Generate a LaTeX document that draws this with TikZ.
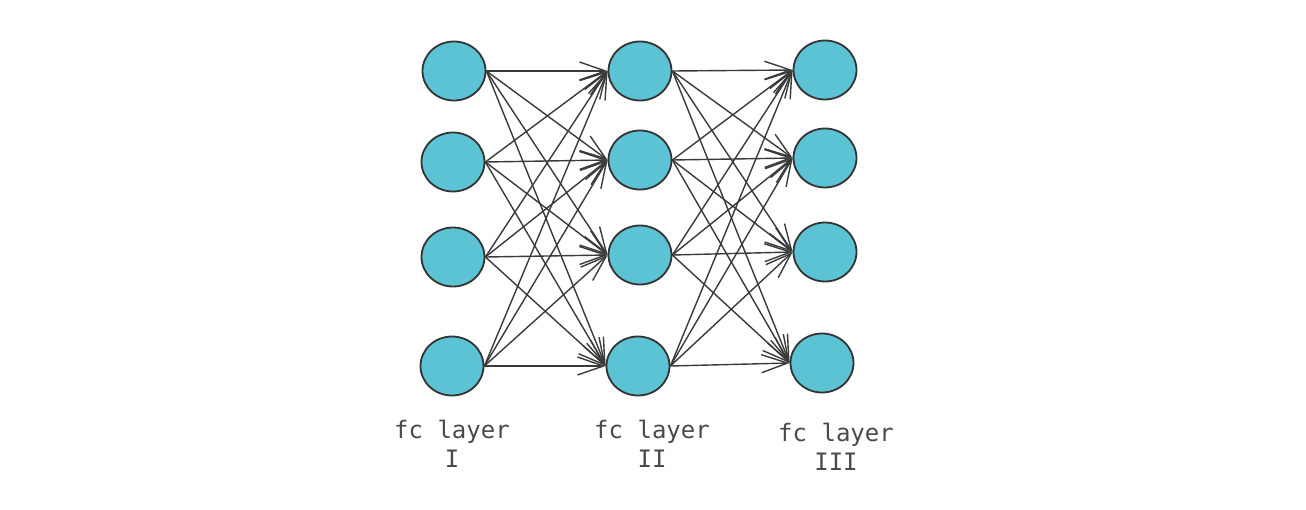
\documentclass[tikz,border=0pt]{standalone}
\usepackage{fontspec}
\newfontfamily\labelfont{DejaVu Sans Mono}
\usetikzlibrary{arrows.meta}
\definecolor{neuronfill}{HTML}{5BC3D3}
\definecolor{neuronline}{HTML}{333333}
\definecolor{linkline}{HTML}{3A3A3A}
\definecolor{labeltext}{HTML}{4A4A4A}
\tikzset{%
  neuron/.style = {ellipse, draw=neuronline, fill=neuronfill, line width=1.8pt,
                   minimum width=63pt, minimum height=59pt, inner sep=0pt},
  link/.style   = {draw=linkline, line width=1.4pt,
                   -{Straight Barb[length=26pt, width=18pt, line width=1.4pt]}},
  caption/.style = {font=\labelfont\fontsize{24}{29}\selectfont, text=labeltext,
                    align=center, inner sep=0pt}
}
\usetikzlibrary{shapes.geometric}

\begin{document}
\begin{tikzpicture}[x=1pt, y=-1pt]
    \useasboundingbox (0,0) rectangle (1306,509);

    % layer I
    \node (a1) [neuron] at (454,71)  {};
    \node (a2) [neuron] at (453,162) {};
    \node (a3) [neuron] at (453,257) {};
    \node (a4) [neuron] at (452,366) {};
    % layer II
    \node (b1) [neuron] at (640,71)  {};
    \node (b2) [neuron] at (640,160) {};
    \node (b3) [neuron] at (640,255) {};
    \node (b4) [neuron] at (638,366) {};
    % layer III
    \node (c1) [neuron] at (825,70)  {};
    \node (c2) [neuron] at (825,158) {};
    \node (c3) [neuron] at (825,252) {};
    \node (c4) [neuron] at (822,363) {};

    \foreach \i in {1,...,4}
      \foreach \j in {1,...,4} {
        \path[link] (a\i.east) -- (b\j.west);
        \path[link] (b\i.east) -- (c\j.west);
      }

    \node (capa) [caption] at (452,444) {fc layer\\I};
    \node (capb) [caption] at (652,444) {fc layer\\II};
    \node (capc) [caption] at (836,447) {fc layer\\III};
\end{tikzpicture}
\end{document}
